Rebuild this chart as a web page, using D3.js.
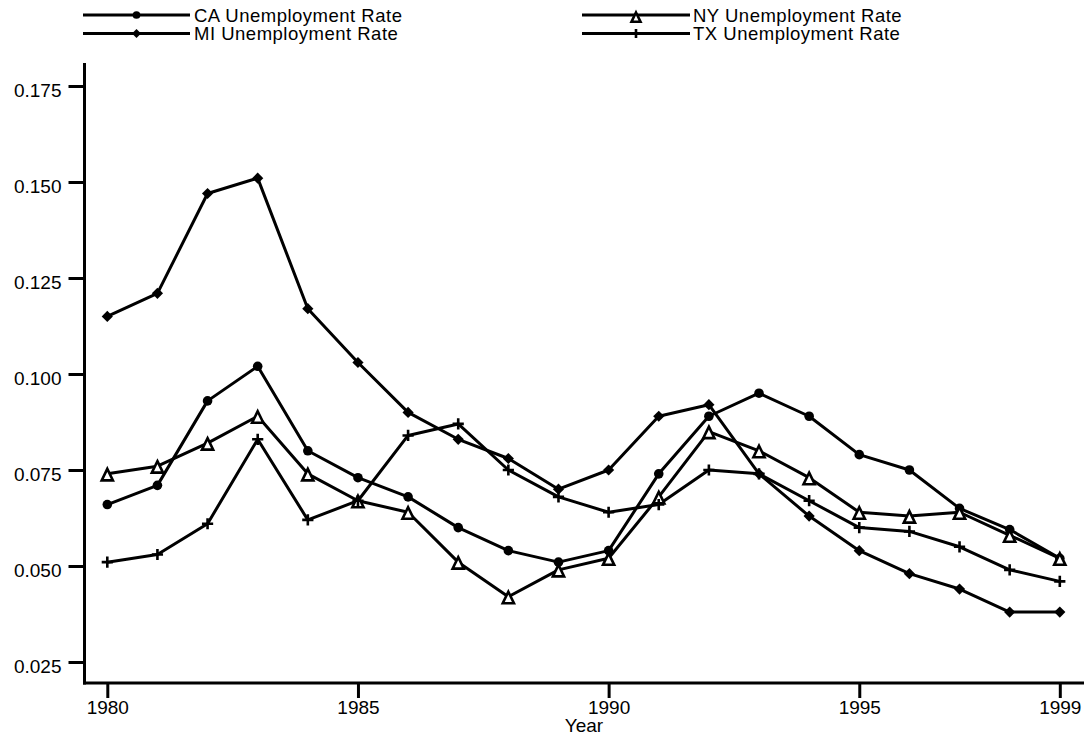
<!DOCTYPE html>
<html>
<head>
<meta charset="utf-8">
<script src="https://cdn.jsdelivr.net/npm/d3@7"></script>
<style>
  body { margin: 0; background: #fff; }
  text { font-family: "Liberation Sans", Arial, sans-serif; fill: #000; }
</style>
</head>
<body>
<div id="chart"></div>
<script>
// Data
var years = [1980, 1981, 1982, 1983, 1984, 1985, 1986, 1987, 1988, 1989,
             1990, 1991, 1992, 1993, 1994, 1995, 1996, 1997, 1998, 1999];
var caRate = [0.066, 0.071, 0.093, 0.102, 0.080, 0.073, 0.068, 0.060, 0.054, 0.051,
              0.054, 0.074, 0.089, 0.095, 0.089, 0.079, 0.075, 0.065, 0.0595, 0.052];
var nyRate = [0.074, 0.076, 0.082, 0.089, 0.074, 0.067, 0.064, 0.051, 0.042, 0.049,
              0.052, 0.068, 0.085, 0.080, 0.073, 0.064, 0.063, 0.064, 0.058, 0.052];
var miRate = [0.115, 0.121, 0.147, 0.151, 0.117, 0.103, 0.090, 0.083, 0.078, 0.070,
              0.075, 0.089, 0.092, 0.074, 0.063, 0.054, 0.048, 0.044, 0.038, 0.038];
var txRate = [0.051, 0.053, 0.061, 0.083, 0.062, 0.067, 0.084, 0.087, 0.075, 0.068,
              0.064, 0.066, 0.075, 0.074, 0.067, 0.060, 0.059, 0.055, 0.049, 0.046];
var yTicks = [0.025, 0.050, 0.075, 0.100, 0.125, 0.150, 0.175];
var xTicks = [1980, 1985, 1990, 1995, 1999];

var series = [
  {name: "CA Unemployment Rate", values: caRate, marker: "circle"},
  {name: "NY Unemployment Rate", values: nyRate, marker: "triangle"},
  {name: "MI Unemployment Rate", values: miRate, marker: "diamond"},
  {name: "TX Unemployment Rate", values: txRate, marker: "plus"}
];

var W = 1088, H = 742;

var svg = d3.select("#chart")
    .append("svg")
    .attr("width", W)
    .attr("height", H);

// Scales
var x = d3.scaleLinear().domain([1980, 1999]).range([107.3, 1059.8]);
var y = d3.scaleLinear().domain([0.025, 0.175]).range([662, 86]);

var axisX = 84.5, axisY = 683;

// Y axis
var gy = svg.append("g").attr("transform", "translate(" + axisX + ",0)");
gy.call(d3.axisLeft(y).tickValues(yTicks).tickFormat(d3.format(".3f")).tickSize(16).tickPadding(7));
gy.select(".domain").remove();
gy.append("line").attr("x1", 0).attr("x2", 0).attr("y1", 63).attr("y2", axisY + 1.5)
    .attr("stroke", "#000").attr("stroke-width", 3);
gy.selectAll(".tick line").attr("stroke", "#000").attr("stroke-width", 3);
gy.selectAll(".tick text").attr("font-size", "19px").attr("dy", "10.5px")
    .style("font-family", "'Liberation Sans', Arial, sans-serif");

// X axis
var gx = svg.append("g").attr("transform", "translate(0," + axisY + ")");
gx.call(d3.axisBottom(x).tickValues(xTicks).tickFormat(d3.format("d")).tickSize(15).tickPadding(3));
gx.select(".domain").remove();
gx.append("line").attr("x1", axisX - 1.5).attr("x2", 1084).attr("y1", 0).attr("y2", 0)
    .attr("stroke", "#000").attr("stroke-width", 3);
gx.selectAll(".tick line").attr("stroke", "#000").attr("stroke-width", 3);
gx.selectAll(".tick text").attr("font-size", "19px").attr("dy", "0.71em")
    .style("font-family", "'Liberation Sans', Arial, sans-serif");

svg.append("text")
    .attr("x", 584).attr("y", 732)
    .attr("text-anchor", "middle")
    .attr("font-size", "19px")
    .text("Year");

// Marker drawing
function drawMarker(g, type, s) {
  if (type === "circle") {
    g.append("circle").attr("r", 4.8 * s).attr("fill", "#000");
  } else if (type === "diamond") {
    var d = 5.6 * s;
    g.append("path").attr("d", "M0," + (-d) + "L" + d + ",0L0," + d + "L" + (-d) + ",0Z")
        .attr("fill", "#000");
  } else if (type === "triangle") {
    var top = -5 * s, base = 6.5 * s, hw = 5.6 * s;
    g.append("path").attr("d", "M0," + top + "L" + hw + "," + base + "L" + (-hw) + "," + base + "Z")
        .attr("fill", "#fff").attr("stroke", "#000").attr("stroke-width", 2.6)
        .attr("stroke-linejoin", "miter");
  } else if (type === "plus") {
    var p = 5.6 * s;
    g.append("path").attr("d", "M" + (-p) + ",0H" + p + "M0," + (-p) + "V" + p)
        .attr("stroke", "#000").attr("stroke-width", 2.6);
  }
}

var line = d3.line()
    .x(function(d, i) { return x(years[i]); })
    .y(function(d) { return y(d); });

series.forEach(function(s) {
  svg.append("path")
      .datum(s.values)
      .attr("d", line)
      .attr("fill", "none")
      .attr("stroke", "#000")
      .attr("stroke-width", 3)
      .attr("stroke-linejoin", "round");
});

series.forEach(function(s) {
  svg.selectAll(null)
      .data(s.values)
      .enter()
      .append("g")
      .attr("transform", function(d, i) { return "translate(" + x(years[i]) + "," + y(d) + ")"; })
      .each(function() { drawMarker(d3.select(this), s.marker, 1); });
});

// Legend: two columns, two rows
var legendPos = [
  {x1: 83, x2: 190, row: 15, tx: 194},
  {x1: 582, x2: 690, row: 15, tx: 693},
  {x1: 83, x2: 190, row: 33.5, tx: 194},
  {x1: 582, x2: 690, row: 33.5, tx: 693}
];

series.forEach(function(s, i) {
  var p = legendPos[i];
  var g = svg.append("g");
  g.append("line").attr("x1", p.x1).attr("x2", p.x2).attr("y1", p.row).attr("y2", p.row)
      .attr("stroke", "#000").attr("stroke-width", 3);
  var m = g.append("g").attr("transform", "translate(" + ((p.x1 + p.x2) / 2) + "," + (p.row + (s.marker === "triangle" ? 1.5 : 0)) + ")");
  drawMarker(m, s.marker, 0.8);
  g.append("text").attr("x", p.tx).attr("y", p.row + 6.7)
      .attr("font-size", "18.5px")
      .attr("letter-spacing", "0.5px")
      .text(s.name);
});
</script>
</body>
</html>
